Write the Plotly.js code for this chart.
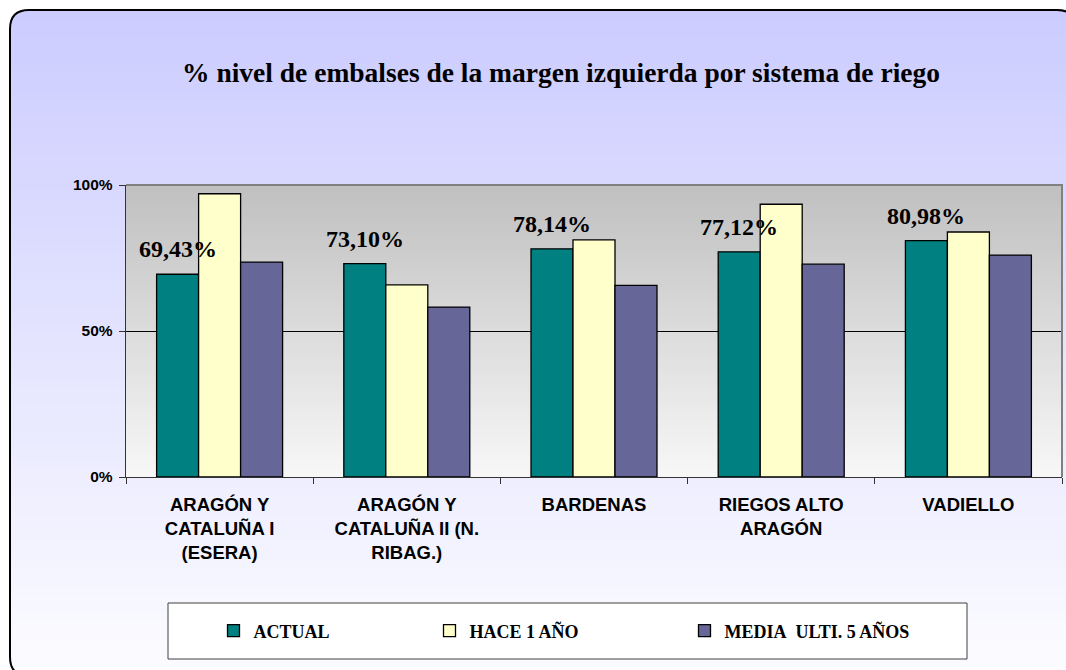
<!DOCTYPE html>
<html><head><meta charset="utf-8">
<script src="https://cdn.plot.ly/plotly-3.0.1.min.js"></script>
<style>html,body{margin:0;padding:0;background:#fff}#chart{width:1066px;height:670px}</style>
</head><body><div id="chart"></div>
<script>
// ---- data ----
const categories = ["ARAGÓN Y CATALUÑA I (ESERA)", "ARAGÓN Y CATALUÑA II (N. RIBAG.)", "BARDENAS", "RIEGOS ALTO ARAGÓN", "VADIELLO"];
const tickLabels = ["ARAGÓN Y<br>CATALUÑA I<br>(ESERA)", "ARAGÓN Y<br>CATALUÑA II (N.<br>RIBAG.)", "BARDENAS", "RIEGOS ALTO<br>ARAGÓN", "VADIELLO"];
const seriesNames = ["ACTUAL", "HACE 1 AÑO", "MEDIA\u00a0 ULTI. 5 AÑOS"];
const actual = [69.43, 73.10, 78.14, 77.12, 80.98];
const haceUnAno = [97.0, 65.8, 81.2, 93.4, 83.9];
const mediaUlt5 = [73.6, 58.2, 65.6, 72.9, 76.0];
const yTickVals = [0, 50, 100];
const yTickText = ["0%", "50%", "100%"];
const chartTitle = "% nivel de embalses de la margen izquierda por sistema de riego";

// ---- layout constants ----
const W = 1066, H = 670, L = 126, R = 4, T = 185, B = 193;
const PW = W - L - R, PH = H - T - B;
const xp = px => (px - L) / PW;
const yp = py => (H - B - py) / PH;
const serif = "Liberation Serif";
const sans = "Liberation Sans";
const colors = ['#008080', '#FFFFCC', '#666699'];
const bargap = 0.327;

const series = [actual, haceUnAno, mediaUlt5];
const legendIds = ['legend', 'legend2', 'legend3'];
const traces = series.map((vals, i) => ({
  type: 'bar', name: seriesNames[i], x: categories, y: vals,
  marker: {color: colors[i], line: {color: '#000', width: 1.3}},
  legend: legendIds[i], hoverinfo: 'skip'
}));

// ---- background shapes ----
const shapes = [];
const lerp = (a, b, t) => Math.round(a + (b - a) * t);
const fx0 = 10, fy0 = 10, fx1 = 1076, fy1 = 676, rad = 19;
const nPB = 74;
for (let k = 0; k < nPB; k++) {
  const y0 = fy0 + (fy1 - fy0) * k / nPB, y1 = fy0 + (fy1 - fy0) * (k + 1) / nPB;
  const c = lerp(204, 252, k / (nPB - 1));
  shapes.push({type: 'rect', xref: 'paper', yref: 'paper', layer: 'below',
    x0: xp(fx0), x1: xp(fx1), y0: yp(Math.round(y0)), y1: yp(Math.round(y1)),
    fillcolor: `rgb(${c},${c},255)`, line: {width: 0}});
}
const P = (x, y) => `${xp(x)},${yp(y)}`;
[[fx0, fy0, 1, 1], [fx1, fy0, -1, 1], [fx0, fy1, 1, -1], [fx1, fy1, -1, -1]].forEach(([cx, cy, sx, sy]) => {
  shapes.push({type: 'path', xref: 'paper', yref: 'paper', layer: 'below',
    path: `M${P(cx - sx, cy - sy)} L${P(cx + sx * rad, cy - sy)} L${P(cx + sx * rad, cy)} Q${P(cx, cy)} ${P(cx, cy + sy * rad)} L${P(cx - sx, cy + sy * rad)} Z`,
    fillcolor: '#ffffff', line: {width: 0}});
});
shapes.push({type: 'path', xref: 'paper', yref: 'paper', layer: 'below',
  path: `M${P(fx0 + rad, fy0)} L${P(fx1 - rad, fy0)} Q${P(fx1, fy0)} ${P(fx1, fy0 + rad)} L${P(fx1, fy1 - rad)} Q${P(fx1, fy1)} ${P(fx1 - rad, fy1)} L${P(fx0 + rad, fy1)} Q${P(fx0, fy1)} ${P(fx0, fy1 - rad)} L${P(fx0, fy0 + rad)} Q${P(fx0, fy0)} ${P(fx0 + rad, fy0)} Z`,
  line: {color: '#000', width: 2}});
const nB = 73;
for (let k = 0; k < nB; k++) {
  const c = lerp(192, 247, k / (nB - 1));
  shapes.push({type: 'rect', xref: 'paper', yref: 'paper', layer: 'below',
    x0: 0, x1: 1, y0: 1 - (k + 1) / nB, y1: 1 - k / nB,
    fillcolor: `rgb(${c},${c},${c})`, line: {width: 0}});
}
shapes.push({type: 'path', xref: 'paper', yref: 'paper', layer: 'above',
  path: 'M0,1 L1,1 L1,0', line: {color: '#808080', width: 2}});
shapes.push({type: 'rect', xref: 'paper', yref: 'paper', layer: 'below',
  x0: xp(168), x1: xp(967), y0: yp(603), y1: yp(659),
  fillcolor: '#ffffff', line: {color: '#404040', width: 1}});

// ---- data labels ----
const tealOffset = -(1 - bargap) / 3;
const annotations = actual.map((v, i) => ({
  xref: 'x', yref: 'y', x: i + tealOffset, y: v, yshift: 25,
  text: v.toFixed(2).replace('.', ',') + '%', showarrow: false,
  xanchor: 'center', yanchor: 'middle',
  font: {family: serif, size: 24, weight: 'bold', color: '#000'}
}));

const legendCenters = [234.5, 450.5, 705.5];
const legendBase = {orientation: 'h', xref: 'container', yref: 'container',
  y: 1 - 631 / H, xanchor: 'left', yanchor: 'middle', bgcolor: 'rgba(0,0,0,0)', borderwidth: 0,
  font: {family: serif, size: 18, weight: 'bold', color: '#000'}};
const layout = {
  width: W, height: H, margin: {l: L, r: R, t: T, b: B, pad: 0},
  paper_bgcolor: '#ffffff', plot_bgcolor: 'rgba(0,0,0,0)',
  font: {family: serif},
  title: {text: '<b>' + chartTitle + '</b>', xref: 'container', yref: 'container', x: 561 / W, y: 1 - 72 / H,
    xanchor: 'center', yanchor: 'middle', font: {family: serif, size: 27.5, color: '#000'}},
  barmode: 'group', bargap: bargap, bargroupgap: 0,
  xaxis: {type: 'category', tickvals: categories, ticktext: tickLabels, range: [-0.5, categories.length - 0.5],
    tickson: 'boundaries', ticks: 'outside', ticklen: 6, tickcolor: '#333', tickwidth: 1,
    showline: true, linecolor: '#333', linewidth: 1.3, showgrid: false, ticklabelstandoff: 10,
    tickfont: {family: sans, size: 18.5, weight: 'bold', color: '#000'}, fixedrange: true},
  yaxis: {range: [0, 100], tickvals: yTickVals, ticktext: yTickText, ticks: 'outside', ticklen: 6,
    tickcolor: '#333', tickwidth: 1, showline: true, linecolor: '#333', linewidth: 1.3,
    showgrid: true, gridcolor: '#000', gridwidth: 1, zeroline: false, ticklabelstandoff: 3,
    tickfont: {family: sans, size: 15.5, weight: 'bold', color: '#000'}, fixedrange: true},
  legend: Object.assign({}, legendBase, {x: (legendCenters[0] - 21) / W}),
  legend2: Object.assign({}, legendBase, {x: (legendCenters[1] - 21) / W}),
  legend3: Object.assign({}, legendBase, {x: (legendCenters[2] - 21) / W}),
  shapes: shapes, annotations: annotations, showlegend: true
};
Plotly.newPlot('chart', traces, layout, {staticPlot: true, displayModeBar: false});
</script></body></html>
